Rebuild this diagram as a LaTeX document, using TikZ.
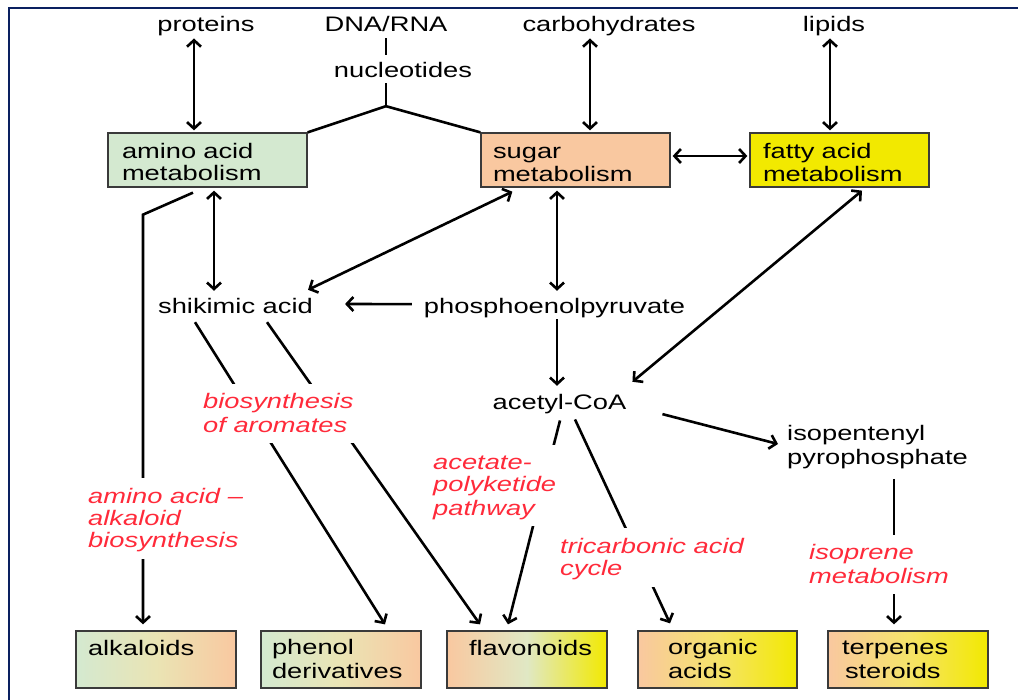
\documentclass[tikz,border=0pt]{standalone}
\usepackage{fontspec}
\setmainfont{Liberation Sans}[FakeStretch=1.3]
\usetikzlibrary{arrows.meta,calc}
\definecolor{navy}{HTML}{0A2060}
\definecolor{greenbox}{HTML}{D4E9D0}
\definecolor{orangebox}{HTML}{F9C8A0}
\definecolor{yellowbox}{HTML}{F2E900}
\definecolor{midGO}{HTML}{EAE4B4}
\definecolor{midOY}{HTML}{F5E36A}
\definecolor{midFL}{HTML}{E0E8C4}
\definecolor{labred}{HTML}{FF2A3A}
\definecolor{boxline}{HTML}{3A3A3A}
\newcommand\bigf{\fontsize{21}{22}\selectfont}
\newcommand\dn[1]{\raisebox{-2.5pt}{#1}}
\newcommand\twol[3]{\strut\hspace*{#1}\dn{#2}\\\strut\hspace*{#1}\dn{#3}}
\newcommand\twot[3]{\rule{0pt}{21pt}\hspace*{#1}\dn{#2}\\\strut\hspace*{#1}\dn{#3}}
\begin{document}
\begin{tikzpicture}[x=1pt,y=-1pt,font=\bigf,
  txt/.style={inner sep=0pt,text=black},
  box/.style={draw=boxline,line width=1.3pt,inner xsep=0pt,inner ysep=0pt,align=left,minimum height=54pt,text=black},
  bbox/.style={box,minimum height=57pt,text width=160pt},
  redlab/.style={inner xsep=4pt,inner ysep=7pt,fill=white,text=labred,font=\bigf\itshape,align=left,anchor=west},
  ln/.style={line width=2.6pt,black},
  arr/.style={ln,-{Straight Barb[length=6.5pt,width=14pt]}},
  dbl/.style={ln,{Straight Barb[length=6.5pt,width=14pt]}-{Straight Barb[length=6.5pt,width=14pt]}}]
\useasboundingbox (0,0) rectangle (1018,700);
\fill[white] (0,0) rectangle (1018,700);
\draw[navy,line width=2.5pt] (9,700) -- (9,8) -- (1018,8);

% top texts
\node[txt,anchor=base] (prot) at (206,29) {\strut\dn{proteins}};
\node[txt,anchor=base] (dna) at (386,29) {\strut\dn{DNA/RNA}};
\node[txt,anchor=base] (nuc) at (403,75) {\strut\dn{nucleotides}};
\node[txt,anchor=base] (carb) at (609,29) {\strut\dn{carbohydrates}};
\node[txt,anchor=base] (lip) at (834,29) {\strut\dn{lipids}};

% metabolism boxes
\node[box,fill=greenbox,text width=199pt] (amino) at (207.5,160) {\twot{14pt}{amino acid}{metabolism}};
\node[box,fill=orangebox,text width=189pt] (sugar) at (575.5,160) {\twot{12pt}{sugar}{metabolism}};
\node[box,fill=yellowbox,text width=179pt] (fatty) at (839.5,160) {\twot{13pt}{fatty acid}{metabolism}};

% intermediates
\node[txt,anchor=base] (shik) at (235.5,311) {\strut\dn{shikimic acid}};
\node[txt,anchor=base] (pep) at (554.5,311) {\strut\dn{phosphoenolpyruvate}};
\node[txt,anchor=base] (acoa) at (559.5,407) {\strut\dn{acetyl-CoA}};
\node[txt,align=left,anchor=west] (ipp) at (787,445.6) {\strut\dn{isopentenyl}\\\strut\dn{pyrophosphate}};

% product boxes
\node[bbox,left color=greenbox,right color=orangebox,middle color=midGO] (alk) at (156,659.5) {\twol{12pt}{alkaloids}{}};
\node[bbox,left color=greenbox,right color=orangebox,middle color=midGO] (phen) at (341,659.5) {\twol{11pt}{phenol}{derivatives}};
\node[bbox,left color=orangebox,right color=yellowbox,middle color=midFL] (flav) at (527,659.5) {\twol{22pt}{flavonoids}{}};
\node[bbox,text width=159pt,left color=orangebox,right color=yellowbox,middle color=midOY] (org) at (717.5,659.5) {\twol{30pt}{organic}{acids}};
\node[bbox,left color=orangebox,right color=yellowbox,middle color=midOY] (terp) at (908,659.5) {\strut\hspace*{14pt}\dn{terpenes}\\\strut\hspace*{17pt}\dn{steroids}};

% connectors
\draw[dbl] ($(prot.south)+(-12,2.4)$) -- ($(amino.north)+(-13.5,-2)$);
\draw[ln] ($(dna.south)+(0,2.4)$) -- ($(nuc.north)+(-17,-4.6)$);
\coordinate (br) at ($(nuc.south)+(-17,24.4)$);
\draw[ln] ($(nuc.south)+(-17,1.4)$) -- (br);
\draw[ln] (amino.north east) -- (br) -- (sugar.north west);
\draw[dbl] ($(carb.south)+(-19,2.4)$) -- ($(sugar.north)+(14.5,-2)$);
\draw[dbl] ($(lip.south)+(-4,2.4)$) -- ($(fatty.north)+(-9.5,-2)$);
\draw[dbl] ($(sugar.east)+(2,-4)$) -- ($(fatty.west)+(-2,-4)$);
\draw[dbl] ($(amino.south)+(6.5,3)$) -- ($(shik.north)+(-21.5,-4.6)$);
\draw[dbl] ($(sugar.south west)+(32,4)$) -- ($(shik.north east)+(-5,-5.6)$);
\draw[arr] ($(pep.west)+(-12,-2.6)$) -- ($(shik.east)+(32,-2.6)$);
\draw[dbl] ($(sugar.south)+(-18.5,3)$) -- ($(pep.north)+(2.5,-4.6)$);
\draw[dbl] ($(fatty.south)+(22.5,3)$) -- ($(acoa.north east)+(6,-9.6)$);
\draw[arr] ($(pep.south)+(2.5,1)$) -- ($(acoa.north)+(-2.5,-5.6)$);
\draw[arr] ($(acoa.east)+(36,11.4)$) -- ($(ipp.west)+(-9,-1.6)$);
\draw[arr] ($(ipp.south west)+(107,10.4)$) -- ($(terp.north)+(-14,-6)$);
\draw[arr] ($(amino.south)+(-14.5,5)$) -- ++(-50,22) -- ($(alk.north)+(-13,-6)$);
\draw[arr] ($(shik.south)+(-40.5,4.4)$) -- ($(phen.north)+(44,-6)$);
\draw[arr] ($(shik.south)+(31.5,4.4)$) -- ($(flav.north)+(-47,-6)$);
\draw[arr] ($(acoa.south)+(0.5,6.4)$) -- ($(flav.north)+(-19,-6)$);
\draw[arr] ($(acoa.south)+(15.5,5.4)$) -- ($(org.north)+(-47.5,-7)$);

% pathway labels
\node[redlab] (l1) at (199,413.6) {\strut\dn{biosynthesis}\\\strut\dn{of aromates}};
\node[redlab] (l2) at (84,518.6) {\strut\dn{amino acid –}\\\strut\dn{alkaloid}\\\strut\dn{biosynthesis}};
\node[redlab] (l3) at (429,485.6) {\strut\dn{acetate-}\\\strut\dn{polyketide}\\\strut\dn{pathway}};
\node[redlab] (l4) at (556,557.6) {\strut\dn{tricarbonic acid}\\\strut\dn{cycle}};
\node[redlab] (l5) at (805,564.6) {\strut\dn{isoprene}\\\strut\dn{metabolism}};
\end{tikzpicture}
\end{document}
